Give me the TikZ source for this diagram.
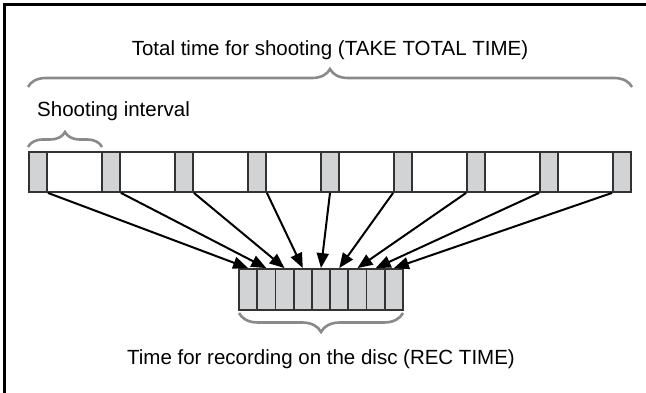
\documentclass[tikz,border=0pt]{standalone}
\usepackage{fontspec}
\setmainfont{Liberation Sans}
\usetikzlibrary{arrows.meta,decorations.pathreplacing}
\definecolor{cellgray}{HTML}{D1D3D4}
\definecolor{bracegray}{HTML}{8A8A8A}
\definecolor{edgegray}{HTML}{333333}
\tikzset{
  frameline/.style={line width=3pt, black},
  stripbox/.style={draw=edgegray, line width=1.8pt, fill=white, minimum width=602pt, minimum height=40pt, inner sep=0pt},
  shotcell/.style={draw=edgegray, line width=1.8pt, fill=cellgray, minimum width=18pt, minimum height=40pt, inner sep=0pt},
  reccell/.style={draw=edgegray, line width=1.8pt, fill=cellgray, minimum width=18.22pt, minimum height=41pt, inner sep=0pt},
  grpbrace/.style={decorate, decoration={brace, amplitude=#1}, draw=bracegray, line width=2.6pt},
  tolink/.style={-{Triangle[length=15pt,width=12pt]}, line width=2pt, black},
  lbl/.style={font=\fontsize{20.5pt}{24pt}\selectfont, inner sep=0pt}
}
\begin{document}
\begin{tikzpicture}[x=1pt, y=-1pt]
    \useasboundingbox (0,0) rectangle (646,393);
    % partial frame
    \draw[frameline] (4,393) -- (4,5) -- (646,5);
    % shooting strip
    \node[stripbox] (strip) at (330,172) {};
    \foreach \k in {0,...,8}
        \node[shotcell] (g\k) at ({38+73*\k},172) {};
    % recorded frames
    \foreach \k in {0,...,8}
        \node[reccell] (c\k) at ({239+18.222*(\k+0.5)},289.5) {};
    % arrows
    \foreach \k in {0,...,3}
        \draw[tolink] (g\k.south east) -- (c\k.north);
    \draw[tolink] (g4.south) -- (c4.north);
    \foreach \k in {5,...,8}
        \draw[tolink] (g\k.south west) -- (c\k.north);
    % braces and labels
    \draw[grpbrace=18pt] (28,87) -- (632,87);
    \node[lbl, anchor=base] (total) at (330,56) {Total time for shooting (TAKE TOTAL TIME)};
    \draw[grpbrace=15pt] (28,147) -- (102,147);
    \node[lbl, anchor=base west] (interval) at (37,117) {Shooting interval};
    \draw[grpbrace=19pt] (403,313) -- (239,313);
    \node[lbl, anchor=base] (rectime) at (321,364) {Time for recording on the disc (REC TIME)};
\end{tikzpicture}
\end{document}
